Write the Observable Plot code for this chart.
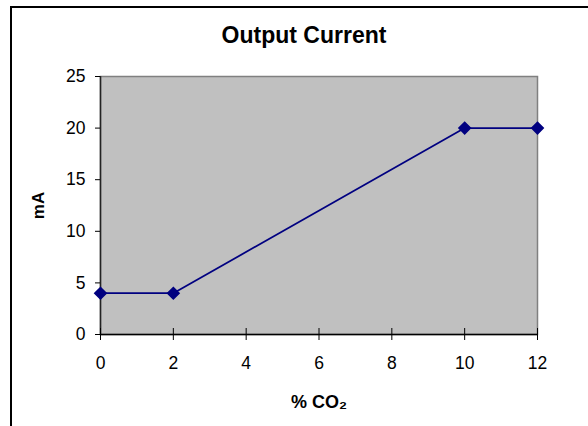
<!DOCTYPE html>
<html>
<head>
<meta charset="utf-8">
<script src="https://cdn.jsdelivr.net/npm/d3@7"></script>
<script src="https://cdn.jsdelivr.net/npm/@observablehq/plot@0.6"></script>
<style>
  html, body { margin: 0; padding: 0; background: #fff; overflow: hidden; }
  #wrap { position: relative; width: 588px; height: 426px; overflow: hidden; }
  #border { position: absolute; left: 10px; top: 6px; width: 600px; height: 440px;
            border-top: 2px solid #000; border-left: 2px solid #000; pointer-events: none; }
  #chart { position: absolute; left: 0; top: 0; }
</style>
</head>
<body>
<div id="wrap"><div id="chart"></div><div id="border"></div></div>
<script>
const co2 = [0, 2, 10, 12];
const current = [4, 4, 20, 20];
const xTicks = [0, 2, 4, 6, 8, 10, 12];
const yTicks = [0, 5, 10, 15, 20, 25];
const title = "Output Current";
const xLabel = "% CO\u2082";
const yLabel = "mA";

const data = co2.map((x, i) => ({x, y: current[i]}));
const navy = "#000080";

const chart = Plot.plot({
  width: 588,
  height: 426,
  marginLeft: 100,
  marginTop: 76,
  marginRight: 51,
  marginBottom: 92,
  style: {fontFamily: "'Liberation Sans', Arial, sans-serif", fontSize: "17.5px", color: "#000", background: "transparent"},
  x: {domain: [0, 12]},
  y: {domain: [0, 25]},
  marks: [
    Plot.frame({fill: "#c0c0c0", stroke: "#808080", strokeWidth: 1.5}),
    Plot.ruleX([0], {stroke: "#222", strokeWidth: 1.5}),
    Plot.ruleY([0], {stroke: "#000", strokeWidth: 1.5}),
    Plot.axisY({ticks: yTicks, tickSize: 5, tickPadding: 10, label: null, stroke: "#000", fontSize: 17.5}),
    Plot.axisX({ticks: xTicks, tickSize: 12, dy: -6, text: null, label: null, stroke: "#000"}),
    Plot.axisX({ticks: xTicks, tickSize: 0, tickPadding: 22, label: null, fontSize: 17.5}),
    Plot.line(data, {x: "x", y: "y", stroke: navy, strokeWidth: 1.75}),
    Plot.dot(data, {x: "x", y: "y", symbol: "diamond2", r: 5.2, fill: navy, stroke: navy}),
    Plot.text([title], {frameAnchor: "top", lineAnchor: "middle", dx: -15, dy: -40.5, fontSize: 23, fontWeight: "bold"}),
    Plot.text([xLabel], {frameAnchor: "bottom", lineAnchor: "middle", dy: 68, fontSize: 18, fontWeight: "bold"}),
    Plot.text([yLabel], {frameAnchor: "left", textAnchor: "middle", lineAnchor: "middle", rotate: -90, dx: -62, fontSize: 17, fontWeight: "bold"})
  ]
});
document.getElementById("chart").appendChild(chart);
</script>
</body>
</html>
